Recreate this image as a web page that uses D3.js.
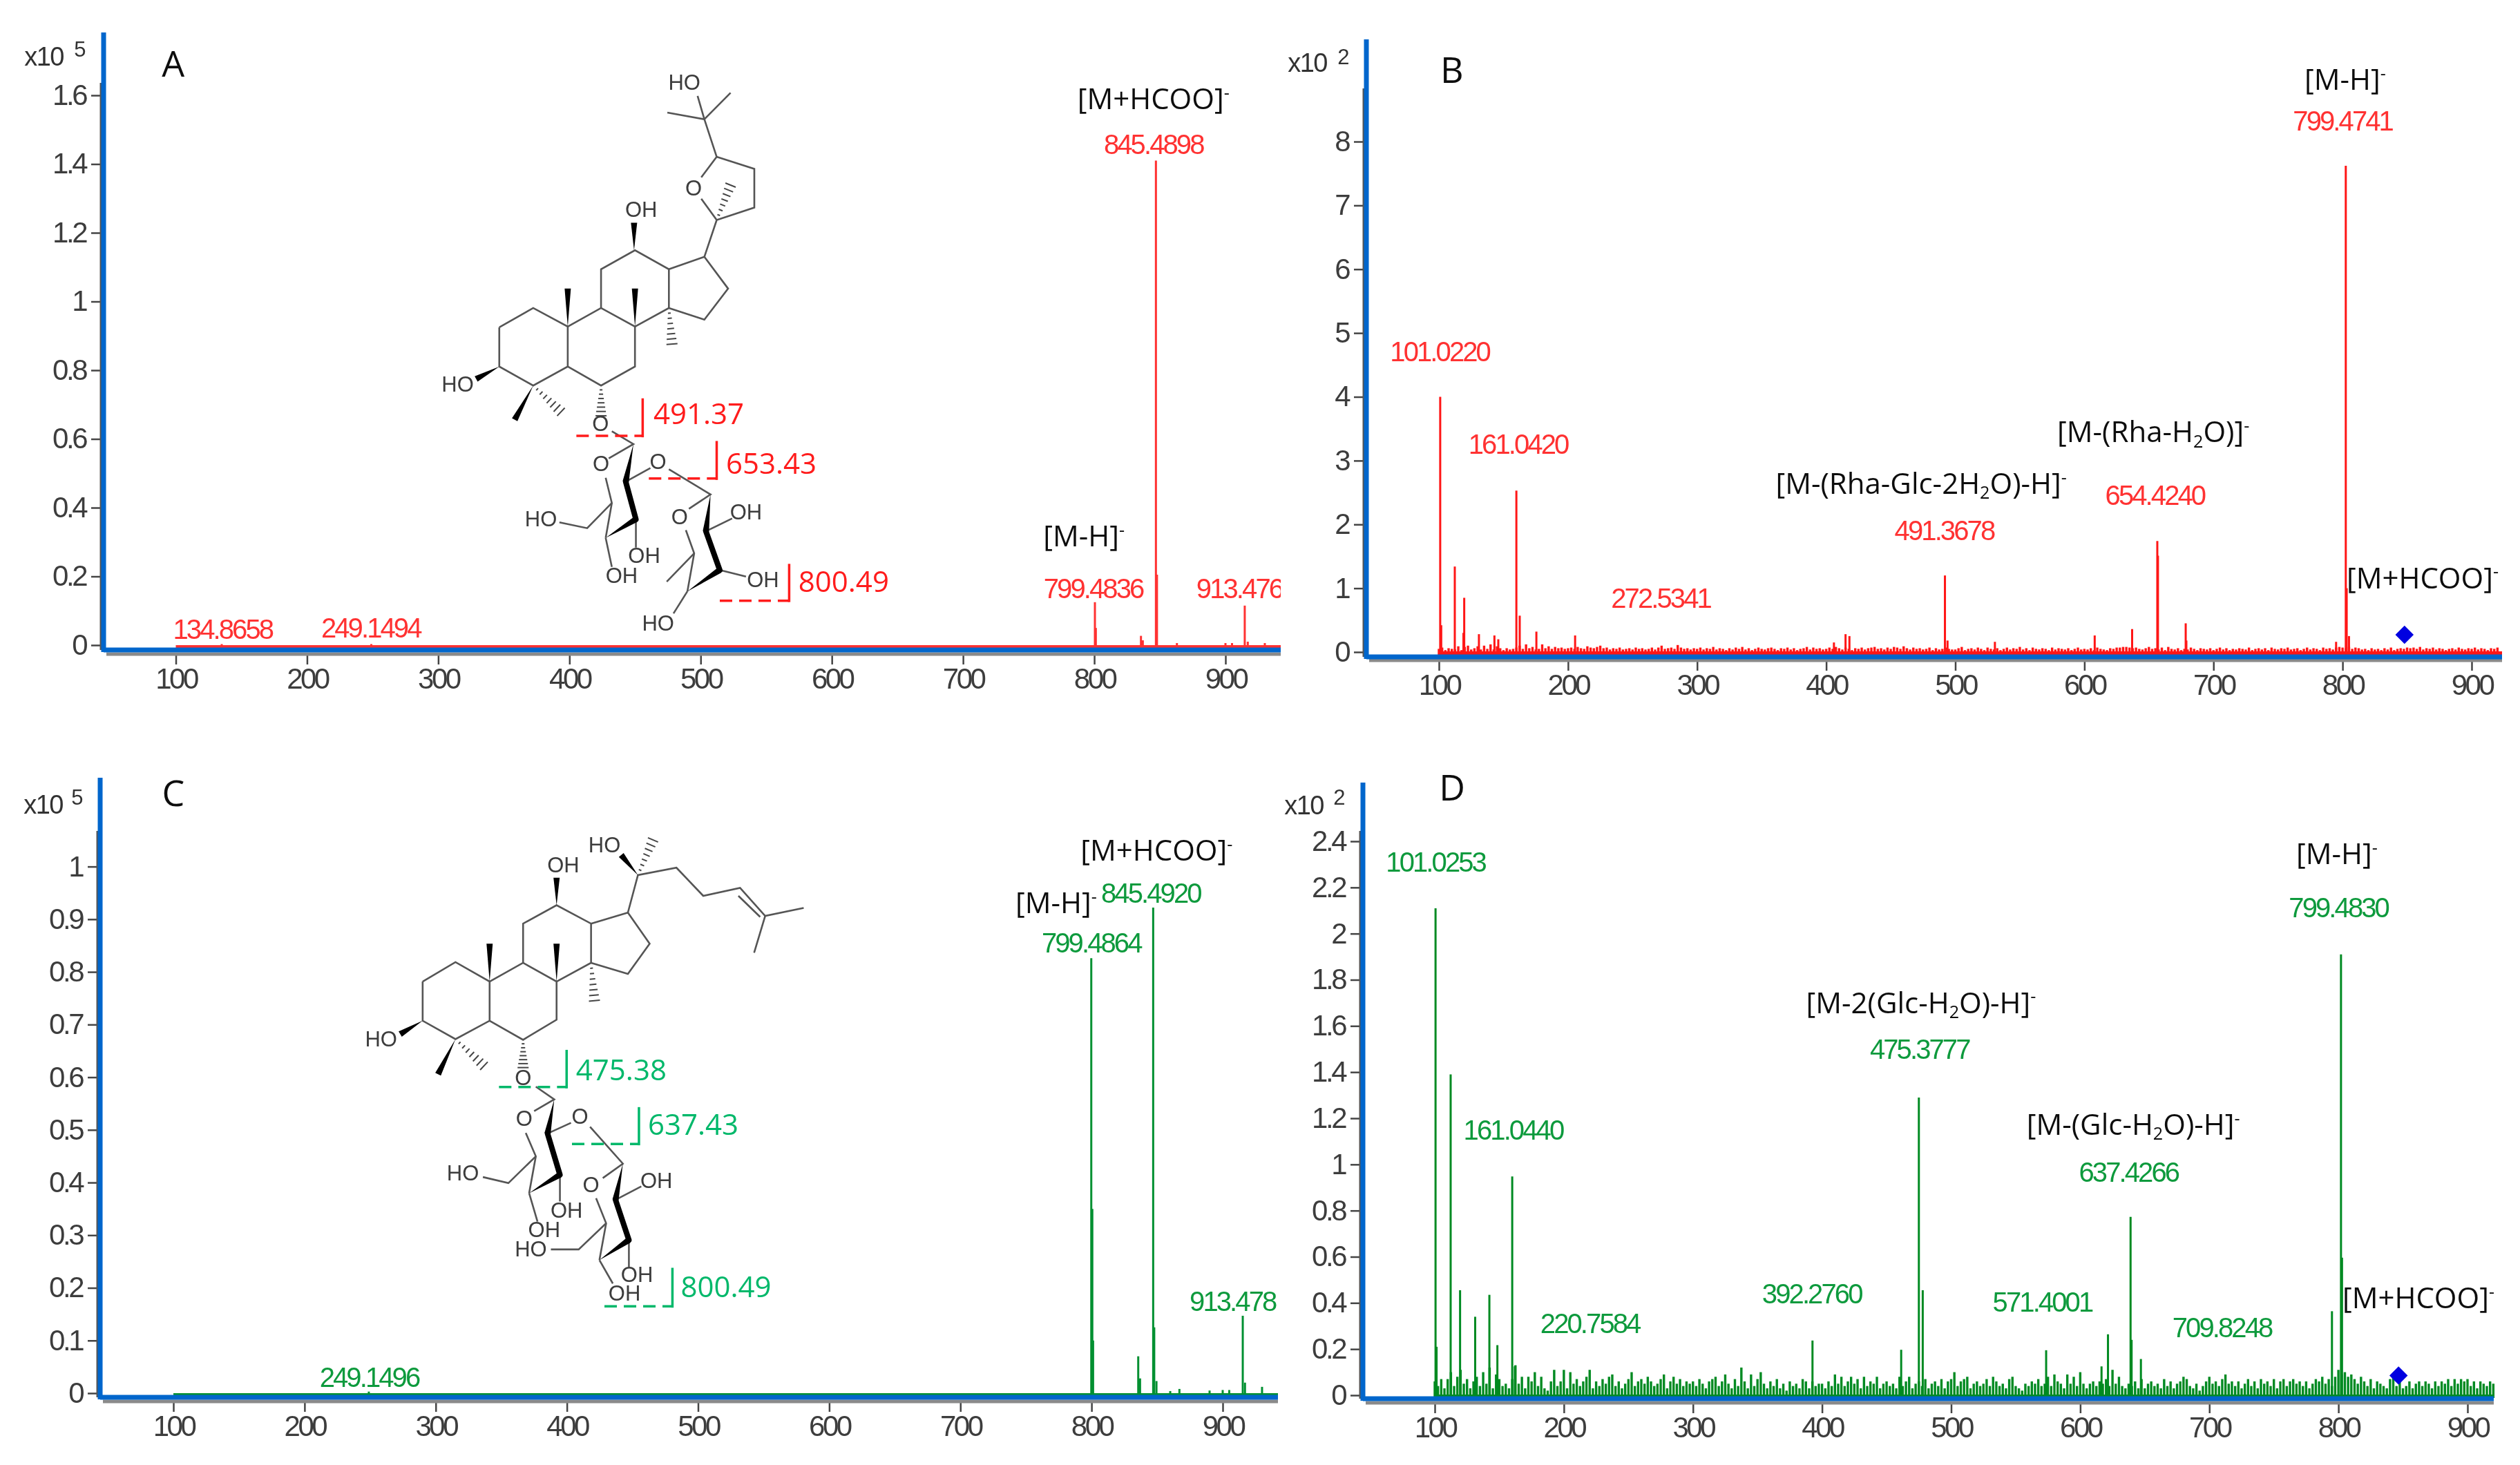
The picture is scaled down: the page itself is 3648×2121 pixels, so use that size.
<!DOCTYPE html>
<html>
<head>
<meta charset="utf-8">
<script src="https://cdn.jsdelivr.net/npm/d3@7"></script>
<style>
  html, body { margin: 0; background: #fff; }
  .tick text { font-family: "Liberation Sans"; font-size: 42px; letter-spacing: -3.5px; fill: #3c3c3c; }
  .tick line { stroke: #444; stroke-width: 2.5; }
  .peak { font-family: "Liberation Sans"; font-size: 40px; letter-spacing: -2.9px; }
  .ion { font-family: "Open Sans"; font-size: 42px; fill: #111; }
  .letter { font-family: "Open Sans"; font-size: 52px; fill: #111; }
  .unit { font-family: "Liberation Sans"; font-size: 38px; letter-spacing: -1.5px; fill: #333; }
  .atom { font-family: "Liberation Sans"; font-size: 31px; fill: #3c3c3c; }
  .cut { font-family: "Open Sans"; font-size: 42px; font-weight: 500; }
</style>
</head>
<body>
<svg id="chart" width="3648" height="2121"></svg>
<script>
var xTicks = [100, 200, 300, 400, 500, 600, 700, 800, 900]

var yTicksA = [0, 0.2, 0.4, 0.6, 0.8, 1, 1.2, 1.4, 1.6]
var yTicksB = [0, 1, 2, 3, 4, 5, 6, 7, 8]
var yTicksC = [0, 0.1, 0.2, 0.3, 0.4, 0.5, 0.6, 0.7, 0.8, 0.9, 1]
var yTicksD = [0, 0.2, 0.4, 0.6, 0.8, 1, 1.2, 1.4, 1.6, 1.8, 2, 2.2, 2.4]

// main peaks (x10^5 for A and C, x10^2 for B and D)
var peakMzA = [135, 249, 800.5, 801.2, 835.6, 837, 847, 847.8, 863, 900, 905, 914.7, 917, 930]
var peakIntA = [0.003, 0.003, 0.125, 0.05, 0.027, 0.014, 1.41, 0.205, 0.006, 0.006, 0.006, 0.115, 0.01, 0.006]

var peakMzB = [101, 101.8, 112.3, 119.6, 119, 131, 143, 146, 160, 162.6, 175.5, 205.5, 406, 415, 418, 492, 494, 530.7, 608, 637, 656.5, 657, 678.5, 679, 795, 802.5, 803.2, 805]
var peakIntB = [4, 0.42, 1.34, 0.85, 0.3, 0.28, 0.26, 0.2, 2.53, 0.57, 0.32, 0.26, 0.15, 0.28, 0.25, 1.2, 0.18, 0.16, 0.26, 0.36, 1.74, 1.51, 0.45, 0.18, 0.16, 7.62, 1, 0.25]

var peakMzC = [249, 799.8, 800.6, 801.2, 835.6, 837, 847, 847.8, 849.5, 860, 867, 890, 900, 905, 915.3, 917, 930]
var peakIntC = [0.003, 0.826, 0.35, 0.1, 0.07, 0.028, 0.922, 0.125, 0.023, 0.004, 0.008, 0.005, 0.006, 0.006, 0.147, 0.02, 0.012]

var peakMzD = [100.6, 101.4, 112.3, 119.6, 131.3, 142.3, 148.5, 160, 162, 392.6, 461.3, 475, 478, 573.6, 616.5, 621.5, 639, 639.8, 647, 795, 802, 802.8]
var peakIntD = [2.11, 0.21, 1.39, 0.455, 0.34, 0.435, 0.217, 0.948, 0.125, 0.237, 0.197, 1.29, 0.455, 0.195, 0.125, 0.264, 0.773, 0.24, 0.157, 0.364, 1.91, 0.596]

// small background spikes, one every 2.5 m/z from 100, in hundredths
var noiseB = [
  5,7,3,6,5,4,9,3,8,10,4,6,9,4,10,5,12,4,9,6,3,6,4,5,7,10,5,12,6,8,4,5,12,6,9,5,8,6,7,5,
  6,7,5,8,6,5,9,7,6,8,10,6,7,4,6,5,7,4,5,6,4,7,5,6,4,5,7,4,7,10,5,6,7,5,11,7,5,6,4,6,
  5,7,4,6,5,8,4,6,5,3,6,4,7,5,8,4,6,3,5,7,5,4,6,7,5,3,6,5,7,4,6,3,5,6,8,4,7,5,6,4,
  5,7,5,8,6,4,7,5,3,6,5,7,4,6,7,8,5,6,4,7,5,8,7,5,9,6,4,7,5,6,4,5,7,3,6,4,5,7,5,4,
  4,6,8,3,5,6,4,7,5,3,7,5,4,6,3,5,7,4,6,5,8,4,6,3,7,5,4,6,5,3,7,4,6,5,4,6,3,5,7,4,
  5,4,6,3,7,5,4,3,6,5,7,7,8,8,7,6,7,5,4,6,8,5,6,4,7,3,8,5,4,6,3,5,4,7,5,3,6,5,4,6,
  3,5,7,4,6,3,5,4,6,5,4,7,3,5,6,4,6,3,7,5,4,6,5,7,4,5,6,3,5,7,4,6,5,3,7,5,6,4,7,8,
  7,6,8,5,7,6,4,5,3,6,4,5,3,6,4,7,3,5,6,5,7,6,7,5,8,4,6,5,7,4,6,5,3,5,6,4,7,5,4,6,
  5,7,4,6,5,3,6,5,7
]
var noiseD = [
  6,4,7,3,7,10,4,8,11,5,7,3,6,8,4,10,5,12,3,9,7,4,5,3,7,13,5,8,3,8,6,10,4,8,3,2,6,11,4,6,
  11,3,10,5,7,4,6,8,11,3,6,4,7,5,8,9,4,6,3,5,7,10,4,6,7,5,8,6,4,5,7,9,3,6,8,5,7,4,6,5,
  6,4,7,5,3,6,7,8,4,6,9,5,3,7,4,12,6,3,9,4,7,10,5,3,6,4,7,3,5,2,6,4,5,3,7,6,3,6,4,5,
  5,3,6,4,9,5,8,4,6,8,5,7,3,8,4,6,5,8,3,5,6,4,5,3,8,4,6,8,3,5,6,4,7,3,5,6,4,7,3,6,
  7,10,4,6,7,8,3,5,6,4,5,7,4,8,6,4,5,3,7,8,4,3,2,5,4,6,5,7,4,5,8,4,9,6,5,3,9,5,8,4,
  10,5,3,5,6,4,6,5,7,4,11,5,8,4,3,5,4,6,3,7,3,5,6,4,5,3,7,4,6,3,5,6,8,7,4,3,5,2,4,6,
  8,5,6,4,7,9,5,6,4,6,3,5,7,4,6,3,7,5,6,4,7,3,6,7,4,6,7,5,6,4,6,3,5,7,6,8,5,7,4,8,
  11,9,10,8,9,7,5,8,6,4,7,3,6,5,4,3,7,9,4,7,3,4,6,3,5,6,4,6,5,3,6,4,6,5,7,4,7,5,7,6,
  7,4,6,3,6,5,4,6,5
]

// precursor marker [m/z, intensity]
var diamondB = [848, 0.27]
var diamondD = [846.6, 0.085]

// annotation text with the m/z and intensity it sits at. _2 is subscript, ^- is superscript
var notesA = [
  ["[M+HCOO]^-", 845.1, 1.59], ["845.4898", 845.1, 1.457], ["[M-H]^-", 792.2, 0.3175],
  ["799.4836", 799.2, 0.1655], ["913.476", 910.5, 0.1655], ["134.8658", 135.7, 0.046], ["249.1494", 248.6, 0.05]
]
var notesB = [
  ["[M-H]^-", 802, 8.97], ["799.4741", 800, 8.33], ["101.0220", 100.6, 4.71], ["161.0420", 161.3, 3.26],
  ["272.5341", 271.8, 0.84], ["[M-(Rha-Glc-2H_2O)-H]^-", 473.6, 2.64], ["491.3678", 491.4, 1.9],
  ["[M-(Rha-H_2O)]^-", 653.4, 3.45], ["654.4240", 654.6, 2.46], ["[M+HCOO]^-", 862, 1.16]
]
var notesC = [
  ["[M+HCOO]^-", 849.6, 1.031], ["[M-H]^-", 773, 0.931], ["845.4920", 845.1, 0.95],
  ["799.4864", 799.8, 0.855], ["913.478", 907.5, 0.174], ["249.1496", 249.3, 0.03]
]
var notesD = [
  ["101.0253", 100.6, 2.31], ["161.0440", 160.7, 1.149], ["220.7584", 220.2, 0.312], ["392.2760", 392, 0.441],
  ["571.4001", 570.6, 0.404], ["709.8248", 709.8, 0.292], ["[M-2(Glc-H_2O)-H]^-", 476.7, 1.7], ["475.3777", 475.5, 1.5],
  ["[M-(Glc-H_2O)-H]^-", 641.1, 1.173], ["637.4266", 637.4, 0.968], ["[M-H]^-", 798.8, 2.346],
  ["799.4830", 800, 2.113], ["[M+HCOO]^-", 862, 0.421]
]

var panels = [
  {id: "A", exp: "5", x100: 254.5, x900: 1774, right: 1854, y0: 934, yTop: 138, left: 150, top: 47, darkTop: 120, blueY: 941, grayY: 947,
   unitX: 92, unitY: 82, expX: 115, expY: 71, letter: [98, 1.69], yTicks: yTicksA, mz: peakMzA, int: peakIntA, notes: notesA,
   peak: "#ff3030", label: "#ff3030"},
  {id: "B", exp: "2", x100: 2083, x900: 3578, right: 3622, y0: 944, yTop: 205, left: 1978, top: 57, darkTop: 128, blueY: 951, grayY: 956,
   unitX: 1921, unitY: 91, expX: 1944, expY: 82, letter: [110, 9.12], yTicks: yTicksB, mz: peakMzB, int: peakIntB, notes: notesB, noise: noiseB, diamond: diamondB,
   peak: "#ff1414", label: "#ff3030"},
  {id: "C", exp: "5", x100: 251, x900: 1770, right: 1850, y0: 2017, yTop: 1254.6, left: 145, top: 1126, darkTop: 1203, blueY: 2023, grayY: 2029,
   unitX: 91, unitY: 1165, expX: 111, expY: 1154, letter: [100, 1.139], yTicks: yTicksC, mz: peakMzC, int: peakIntC, notes: notesC,
   peak: "#049030", label: "#0f9a3c"},
  {id: "D", exp: "2", x100: 2077, x900: 3572, right: 3610, y0: 2020, yTop: 1218, left: 1973, top: 1133, darkTop: 1203, blueY: 2025, grayY: 2031,
   unitX: 1916, unitY: 1166, expX: 1938, expY: 1154, letter: [113.5, 2.63], yTicks: yTicksD, mz: peakMzD, int: peakIntD, notes: notesD, noise: noiseD, diamond: diamondD,
   peak: "#008a20", label: "#0f9a3c"}
]

var svg = d3.select("#chart")

var defs = svg.append("defs")
defs.append("filter").attr("id", "soft")
    .attr("x", 0).attr("y", 0).attr("width", 1).attr("height", 1)
    .attr("filterUnits", "objectBoundingBox")
  .append("feGaussianBlur").attr("stdDeviation", 0.7)

var root = svg.append("g").attr("filter", "url(#soft)")
root.append("rect").attr("width", 3648).attr("height", 2121).attr("fill", "#fff")

// writes "[M-(Rha-H_2O)]^-" as plain, subscript and superscript tspans
function richText(sel, str) {
  var parts = str.split(/(_2|\^-)/)
  var shift = 0
  parts.forEach(function(p) {
    if (!p) return
    if (p == "_2") {
      sel.append("tspan").attr("dy", "0.3em").attr("font-size", "60%").text("2")
      shift = -0.18
    } else if (p == "^-") {
      sel.append("tspan").attr("dy", "-0.6em").attr("font-size", "60%").text("-")
    } else {
      var t = sel.append("tspan").text(p)
      if (shift) { t.attr("dy", shift + "em"); shift = 0 }
    }
  })
}

function drawPanel(p) {
  var g = root.append("g").attr("class", "panel panel-" + p.id)
  var yMax = d3.max(p.yTicks)

  var x = d3.scaleLinear().domain([100, 900]).range([p.x100, p.x900])
  var y = d3.scaleLinear().domain([0, yMax]).range([p.y0, p.yTop])

  // labels that run past the right end get cut, like the reference
  defs.append("clipPath").attr("id", "clip-" + p.id)
    .append("rect").attr("x", p.left).attr("y", 0).attr("width", p.right - p.left).attr("height", 2121)

  // grey line sits under the blue axis, ticks hang off it
  g.append("g")
    .attr("transform", "translate(0," + (p.grayY + 2) + ")")
    .call(d3.axisBottom(x).tickValues(xTicks).tickSize(13).tickSizeOuter(0).tickPadding(5).tickFormat(d3.format("d")))
    .call(function(s) { s.select(".domain").remove() })

  g.append("g")
    .attr("transform", "translate(" + (p.left - 3) + ",0)")
    .call(d3.axisLeft(y).tickValues(p.yTicks).tickSize(15).tickSizeOuter(0).tickPadding(8).tickFormat(function(d) { return String(d) }))
    .call(function(s) { s.select(".domain").remove() })

  g.append("line").attr("x1", p.left - 4).attr("x2", p.left - 4).attr("y1", p.darkTop).attr("y2", p.blueY)
    .attr("stroke", "#555").attr("stroke-width", 3)
  g.append("line").attr("x1", p.left + 4).attr("x2", p.right).attr("y1", p.grayY).attr("y2", p.grayY)
    .attr("stroke", "#8a8a8a").attr("stroke-width", 5)

  // noise first, peaks on top
  var base = p.blueY - 1
  if (p.noise) {
    g.selectAll("line.noise")
        .data(p.noise)
      .enter().append("line")
        .attr("class", "noise")
        .attr("x1", function(d, i) { return x(100 + i * 2.5) })
        .attr("x2", function(d, i) { return x(100 + i * 2.5) })
        .attr("y1", base)
        .attr("y2", function(d) { return y(d / 100) })
        .attr("stroke", p.peak)
        .attr("stroke-width", 3.4)
  }

  g.selectAll("line.spike")
      .data(p.mz)
    .enter().append("line")
      .attr("class", "spike")
      .attr("x1", function(d) { return x(d) })
      .attr("x2", function(d) { return x(d) })
      .attr("y1", base)
      .attr("y2", function(d, i) { return y(p.int[i]) })
      .attr("stroke", p.peak)
      .attr("stroke-width", 3)

  g.append("line").attr("x1", x(100)).attr("x2", p.right).attr("y1", p.y0 + 2).attr("y2", p.y0 + 2)
    .attr("stroke", p.peak).attr("stroke-width", p.noise ? 6 : 4)

  g.append("line").attr("x1", p.left).attr("x2", p.right).attr("y1", p.blueY).attr("y2", p.blueY)
    .attr("stroke", "#0066cc").attr("stroke-width", 7)
  g.append("line").attr("x1", p.left).attr("x2", p.left).attr("y1", p.top).attr("y2", p.blueY + 3)
    .attr("stroke", "#0066cc").attr("stroke-width", 7)

  if (p.diamond) {
    g.append("path")
      .attr("d", d3.symbol(d3.symbolSquare, 350))
      .attr("transform", "translate(" + x(p.diamond[0]) + "," + y(p.diamond[1]) + ") rotate(45)")
      .attr("fill", "#0000e0")
  }

  var notes = g.append("g").attr("clip-path", "url(#clip-" + p.id + ")")
  p.notes.forEach(function(n) {
    var isIon = n[0].charAt(0) == "["
    var t = notes.append("text")
      .attr("class", isIon ? "ion" : "peak")
      .attr("x", x(n[1]))
      .attr("y", y(n[2]))
      .attr("dy", "0.35em")
      .attr("text-anchor", "middle")
    if (isIon) richText(t, n[0])
    else t.attr("fill", p.label).text(n[0])
  })

  g.append("text").attr("class", "letter")
    .attr("x", x(p.letter[0])).attr("y", y(p.letter[1])).attr("dy", "0.35em")
    .attr("text-anchor", "middle").text(p.id)

  g.append("text").attr("class", "unit").attr("x", p.unitX).attr("y", p.unitY).attr("dy", "0.35em")
    .attr("text-anchor", "end").text("x10")
  g.append("text").attr("class", "unit").attr("x", p.expX).attr("y", p.expY).attr("dy", "0.35em")
    .attr("text-anchor", "middle").style("font-size", "31px").text(p.exp)
}

panels.forEach(drawPanel)

// ---- structure sketches, coordinates in each sketch's own drawing space ----

var structA = {
  box: {ox: 600, oy: 80, sx: 700 / 1568, sy: 880 / 1568},
  color: "#ff1a1a",
  bonds: [
    [[275,702],[385,652],[497,700],[497,803],[385,852],[275,803],[275,702]],
    [[497,700],[605,652],[715,700],[715,803],[605,852],[497,803]],
    [[605,652],[605,552],[715,503],[825,552],[825,652],[715,700]],
    [[825,552],[940,520],[1017,602],[940,682],[825,652]],
    [[940,520],[980,425],[1102,393],[1102,293],[980,262],[930,315]],
    [[930,370],[980,425]], [[980,262],[940,165],[820,148]], [[940,165],[1025,97]], [[940,165],[918,105]],
    [[640,970],[710,1003],[630,1040]], [[620,1090],[640,1155],[620,1245]],
    [[685,1100],[765,1065]], [[825,1068],[960,1133],[890,1170]],
    [[640,1155],[560,1220],[470,1205]], [[718,1197],[718,1270]], [[620,1245],[640,1320]],
    [[880,1225],[907,1285],[885,1383]], [[945,1228],[1030,1195]], [[990,1328],[1075,1345]],
    [[885,1383],[840,1440]], [[907,1285],[818,1358]]
  ],
  wedges: [
    [[712,503],[712,432]], [[497,700],[497,602]], [[715,700],[715,602]], [[275,803],[200,835]],
    [[385,852],[325,940]], [[710,1003],[685,1100]], [[620,1245],[718,1197]],
    [[960,1133],[945,1228]], [[885,1383],[990,1328]]
  ],
  thick: [[[685,1100],[718,1197]], [[945,1228],[990,1328]]],
  hashes: [[[385,852],[475,920]], [[825,652],[835,745]], [[605,852],[605,930]], [[980,425],[1025,335]]],
  atoms: [
    ["HO",875,70],["O",905,342],["OH",735,397],["HO",140,848],["O",603,950],["O",605,1053],["O",790,1047],
    ["HO",410,1195],["OH",745,1290],["OH",672,1342],["O",860,1190],["OH",1075,1178],["OH",1130,1352],["HO",790,1465]
  ],
  cuts: [
    {dash: [525,740,982], top: 885, text: "491.37", tx: 775, ty: 925},
    {dash: [760,980,1092], top: 995, text: "653.43", tx: 1010, ty: 1053},
    {dash: [990,1215,1407], top: 1312, text: "800.49", tx: 1245, ty: 1357}
  ]
}

var structC = {
  box: {ox: 480, oy: 1170, sx: 760 / 1568, sy: 760 / 1568},
  color: "#00b86b",
  bonds: [
    [[272,518],[370,460],[472,518],[472,635],[370,690],[272,635],[272,518]],
    [[472,518],[572,462],[672,518],[672,632],[572,692],[472,635]],
    [[572,462],[572,345],[672,290],[775,345],[775,462],[672,518]],
    [[775,345],[885,312],[950,405],[885,495],[775,462]],
    [[885,312],[915,200],[1030,178],[1110,262],[1220,238],[1295,322],[1410,298]],
    [[1215,262],[1280,325]], [[1295,322],[1262,432]],
    [[610,832],[665,870],[605,905]], [[580,970],[610,1040],[590,1150]],
    [[645,972],[715,940]], [[772,952],[870,1062],[810,1105]],
    [[610,1040],[528,1120],[452,1102]], [[682,1095],[682,1175]], [[590,1150],[615,1235]],
    [[790,1165],[820,1240],[800,1350]], [[848,1170],[925,1130]], [[888,1290],[888,1370]],
    [[800,1350],[840,1420]], [[820,1240],[738,1318],[655,1318]]
  ],
  wedges: [
    [[672,290],[672,208]], [[472,518],[472,405]], [[672,518],[672,405]], [[272,635],[205,675]],
    [[370,690],[318,795]], [[915,200],[865,140]], [[665,870],[645,972]], [[590,1150],[682,1095]],
    [[870,1062],[848,1170]], [[800,1350],[888,1290]]
  ],
  thick: [[[645,972],[682,1095]], [[848,1170],[888,1290]]],
  hashes: [[[370,690],[455,770]], [[775,462],[785,575]], [[572,692],[572,775]], [[915,200],[960,95]]],
  atoms: [
    ["HO",815,110],["OH",692,168],["HO",148,688],["O",572,805],["O",575,925],["O",742,920],["HO",392,1088],
    ["OH",702,1200],["OH",635,1258],["O",775,1125],["OH",970,1112],["HO",595,1315],["OH",912,1393],["OH",875,1447]
  ],
  cuts: [
    {dash: [500,702,833], top: 722, text: "475.38", tx: 730, ty: 782},
    {dash: [718,918,1003], top: 893, text: "637.43", tx: 945, ty: 945},
    {dash: [815,1018,1488], top: 1373, text: "800.49", tx: 1043, ty: 1430}
  ]
}

function drawStructure(s) {
  var g = root.append("g").attr("class", "structure")
  var px = function(v) { return s.box.ox + v * s.box.sx }
  var py = function(v) { return s.box.oy + v * s.box.sy }
  var line = d3.line().x(function(d) { return px(d[0]) }).y(function(d) { return py(d[1]) })

  g.selectAll("path.bond").data(s.bonds)
    .enter().append("path").attr("class", "bond")
    .attr("d", line).attr("fill", "none").attr("stroke", "#555").attr("stroke-width", 2.6)

  g.selectAll("path.thick").data(s.thick)
    .enter().append("path").attr("class", "thick")
    .attr("d", line).attr("fill", "none").attr("stroke", "#000").attr("stroke-width", 8).attr("stroke-linecap", "round")

  // solid wedge: narrow at the first point, wide at the second
  s.wedges.forEach(function(w) {
    var ax = px(w[0][0]), ay = py(w[0][1]), bx = px(w[1][0]), by = py(w[1][1])
    var len = Math.hypot(bx - ax, by - ay), nx = -(by - ay) / len * 4.5, ny = (bx - ax) / len * 4.5
    g.append("path")
      .attr("d", "M" + ax + "," + ay + "L" + (bx + nx) + "," + (by + ny) + "L" + (bx - nx) + "," + (by - ny) + "Z")
      .attr("fill", "#000")
  })

  s.hashes.forEach(function(h) {
    var ax = px(h[0][0]), ay = py(h[0][1]), bx = px(h[1][0]), by = py(h[1][1])
    var len = Math.hypot(bx - ax, by - ay), ux = (bx - ax) / len, uy = (by - ay) / len
    d3.range(1, 8).forEach(function(i) {
      var t = i / 7, half = 1 + 7 * t, cx = ax + (bx - ax) * t, cy = ay + (by - ay) * t
      g.append("line")
        .attr("x1", cx - uy * half).attr("y1", cy + ux * half)
        .attr("x2", cx + uy * half).attr("y2", cy - ux * half)
        .attr("stroke", "#444").attr("stroke-width", 2)
    })
  })

  g.selectAll("text.atom").data(s.atoms)
    .enter().append("text").attr("class", "atom")
    .attr("x", function(d) { return px(d[1]) })
    .attr("y", function(d) { return py(d[2]) })
    .attr("dy", "0.36em")
    .attr("text-anchor", "middle")
    .text(function(d) { return d[0] })

  s.cuts.forEach(function(c) {
    g.append("line")
      .attr("x1", px(c.dash[0])).attr("x2", px(c.dash[1])).attr("y1", py(c.dash[2])).attr("y2", py(c.dash[2]))
      .attr("stroke", s.color).attr("stroke-width", 3.5).attr("stroke-dasharray", "18 10")
    g.append("line")
      .attr("x1", px(c.dash[1])).attr("x2", px(c.dash[1])).attr("y1", py(c.top)).attr("y2", py(c.dash[2]) + 2)
      .attr("stroke", s.color).attr("stroke-width", 3.5)
    g.append("text").attr("class", "cut")
      .attr("x", px(c.tx)).attr("y", py(c.ty)).attr("dy", "0.36em")
      .attr("fill", s.color).text(c.text)
  })
}

drawStructure(structA)
drawStructure(structC)
</script>
</body>
</html>
